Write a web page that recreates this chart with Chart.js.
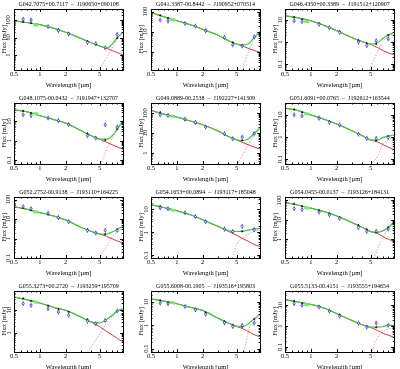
<!DOCTYPE html>
<html>
<head>
<meta charset="utf-8">
<script src="https://cdn.jsdelivr.net/npm/chart.js@4.4.0/dist/chart.umd.min.js"></script>
<style>
  html, body { margin: 0; padding: 0; background: #fff; overflow: hidden; }
  #grid { position: relative; width: 400px; height: 369px; overflow: hidden; }
  #grid canvas { position: absolute; }
</style>
</head>
<body>
<div id="grid"></div>
<script>
// panel titles, left to right, top to bottom
const titles = [
  'G042.7075+00.7117  –  J190650+090108',
  'G041.3387-00.8442  –  J190952+070514',
  'G046.4350+00.3389  –  J191512+120907',
  'G048.1075-00.0432  –  J191947+132707',
  'G049.0889-00.2538  –  J192227+141309',
  'G051.6091+00.0765  –  J192612+163544',
  'G052.2752-00.9138  –  J193110+164225',
  'G054.1653+00.0894  –  J193117+185048',
  'G054.0455-00.0137  –  J193126+184131',
  'G055.3273+00.2720  –  J193259+195709',
  'G055.6008-00.1905  –  J193516+195803',
  'G055.5133-00.4151  –  J193555+194654'
];

// y axis limits per panel (mJy)
const yMin = [0.14, 0.12, 0.053, 0.062, 0.29, 0.061, 0.1, 0.077, 0.11, 0.145, 0.072, 0.057];
const yMax = [425, 136, 32, 90, 316, 34, 135, 35, 150, 71, 30, 49];

const xTicks = [0.5, 1, 2, 5];
const yTicks = [0.1, 1, 10, 100];

// photometric bands (um) and measured fluxes (blue)
const bandWave = [0.64, 0.79, 1.25, 1.65, 2.17, 3.6, 4.5, 5.8, 8.0];
const obsFlux = [
  [110, 100, 42, 25, 16, 5.2, 4.5, 2.6, 15],
  [38, 34, 26, 19, 11, 5.2, 2.2, 1.9, 5.5],
  [9.3, 8.4, 6.4, 4.5, 2.75, 1.0, 0.68, 1.15, 1.4],
  [22, 20, 15, 11, 6.7, 1.8, 1.35, 6.7, 5.1],
  [82, 76, 50, 34, 20, 9.3, 5.2, 6.3, 9.3],
  [10, 9.0, 7.0, 4.6, 3.5, 1.33, 0.87, 0.87, 0.96],
  [43, 34, 20, 12, 7.3, 2.6, 1.9, 2.6, 2.6],
  [11.8, 10.7, 7.2, 4.9, 2.9, 1.4, 1.1, 1.85, 1.3],
  [38, 34, 25, 18, 12, 4.1, 2.6, 2.6, 3.4],
  [19.7, 16.6, 11.8, 8.4, 6.0, 3.3, 2.6, 3.6, 9.3],
  [9.1, 8.5, 6.5, 4.7, 3.0, 1.3, 0.9, 1.0, 1.25],
  [12, 10, 8.3, 5.3, 3.0, 1.4, 0.9, 1.4, 1.1]
];
// model fluxes in the same bands (black)
const bandModel = [
  [78, 66, 42, 28, 18, 6.3, 4.0, 2.6, 9.5],
  [66, 48, 27, 19, 12, 5.0, 2.9, 2.1, 5.2],
  [13.5, 11, 7, 4.6, 3.1, 1.2, 0.88, 0.82, 2.1],
  [35, 27, 15, 11, 7.5, 2.4, 1.45, 1.1, 4],
  [110, 75, 46, 32, 22, 9, 5.6, 4.3, 10],
  [17.5, 13, 7.5, 5.0, 3.4, 1.4, 0.9, 0.7, 1.1],
  [37, 28, 17, 11.5, 7.8, 2.9, 2.0, 1.65, 2.9],
  [14, 11, 7, 4.8, 3.2, 1.5, 1.12, 1.12, 1.4],
  [68, 50, 31, 21, 14, 5.4, 3.3, 2.3, 4.1],
  [33, 26, 16, 11.5, 8.6, 4.0, 2.5, 3.5, 9.3],
  [12, 9.6, 6.8, 5.0, 3.6, 1.5, 1.05, 0.88, 1.9],
  [16.5, 12.5, 8.5, 5.6, 3.6, 1.4, 1.0, 0.88, 1.1]
];

// short spectrum piece (light green)
const specWave = [0.84, 0.9, 0.96];
const specFlux = [
  [55, 52, 50], [42, 40, 38], [9, 8.5, 8.2], [26, 25, 24],
  [72, 70, 68], [11.5, 11, 10.5], [24, 23, 22], [10, 9.4, 9],
  [43, 41, 39], [24, 23, 22], [9.8, 9.4, 9], [11.2, 10.8, 10.4]
];

// model curves
const modelWave = [0.5, 0.7, 1, 1.5, 2, 3, 4, 5, 6, 7, 8, 9.4];
const totalFlux = [
  [90, 72, 55, 32, 20, 9, 5, 3.3, 2.5, 4.2, 9.5, 21],
  [89, 56, 35, 21, 13, 6.8, 3.5, 2.4, 2.15, 2.6, 5.2, 10],
  [15.7, 12.8, 9.3, 5.3, 3.3, 1.6, 1.04, 0.8, 0.93, 1.5, 2.1, 2.7],
  [40, 32, 20, 12, 8.2, 3.4, 1.8, 1.2, 1.2, 1.8, 4, 11],
  [136, 89, 63, 38, 26, 13, 6.8, 4.6, 4.3, 5.6, 10, 18],
  [20, 15.7, 10, 5.9, 3.9, 1.94, 1.15, 0.73, 0.73, 0.96, 1.1, 1.23],
  [43, 32, 21.5, 13.7, 9, 3.8, 2.3, 1.7, 1.7, 2.15, 2.9, 4.3],
  [16.3, 12.2, 8.8, 5.6, 3.55, 1.85, 1.2, 1.1, 1.15, 1.3, 1.4, 1.5],
  [79, 58, 40, 25, 16, 7.4, 4.1, 2.5, 2.3, 2.8, 4.1, 8],
  [38.7, 29.5, 21, 13, 10, 5.1, 3.0, 2.8, 3.9, 6.0, 9.3, 11.8],
  [13.9, 11, 8.5, 5.7, 4.4, 2.06, 1.26, 0.9, 0.9, 1.26, 1.9, 3.2],
  [18.8, 14.5, 11.2, 6.9, 4.0, 1.9, 1.16, 0.9, 0.9, 0.96, 1.1, 1.1]
];
const starFlux = [
  [90, 72, 55, 32, 20, 9, 5, 3.3, 2.4, 1.8, 1.4, 1.0],
  [89, 56, 35, 21, 13, 6.8, 3.5, 2.4, 1.8, 1.4, 1.15, 0.93],
  [15.7, 12.8, 9.3, 5.3, 3.3, 1.6, 1.04, 0.78, 0.56, 0.40, 0.32, 0.26],
  [40, 32, 20, 12, 8.2, 3.4, 1.8, 1.2, 0.83, 0.62, 0.48, 0.36],
  [136, 89, 63, 38, 26, 13, 6.8, 4.5, 3.3, 2.5, 2.0, 1.6],
  [20, 15.7, 10, 5.9, 3.9, 1.94, 1.15, 0.73, 0.6, 0.45, 0.35, 0.27],
  [43, 32, 21.5, 13.7, 9, 3.8, 2.3, 1.7, 1.3, 0.95, 0.75, 0.56],
  [16.3, 12.2, 8.8, 5.6, 3.55, 1.85, 1.12, 0.75, 0.52, 0.39, 0.30, 0.24],
  [79, 58, 40, 25, 16, 7.4, 4.1, 2.5, 2.0, 1.36, 1.01, 0.79],
  [38.7, 29.5, 21, 13, 10, 5.1, 3.0, 1.9, 1.18, 0.82, 0.58, 0.4],
  [13.9, 11, 8.5, 5.7, 4.4, 2.06, 1.26, 0.9, 0.7, 0.52, 0.4, 0.32],
  [18.8, 14.5, 11.2, 6.9, 4.0, 1.9, 1.16, 0.86, 0.62, 0.44, 0.37, 0.29]
];
const dustWave = [3, 4, 5, 6, 7, 8, 9.4];
const dustFlux = [
  [0.003, 0.03, 0.17, 0.7, 2.4, 8, 20],
  [0.001, 0.005, 0.03, 0.2, 1.2, 4, 9],
  [0.0005, 0.005, 0.07, 0.35, 1.1, 1.8, 2.45],
  [0.0003, 0.003, 0.04, 0.35, 1.2, 3.5, 10.6],
  [0.001, 0.01, 0.2, 1.0, 3.1, 8, 16.4],
  [0.0003, 0.003, 0.05, 0.13, 0.5, 0.75, 0.96],
  [0.001, 0.01, 0.1, 0.4, 1.2, 2.15, 3.7],
  [0.002, 0.02, 0.3, 0.6, 0.9, 1.1, 1.26],
  [0.0003, 0.003, 0.05, 0.3, 1.4, 3.1, 7.2],
  [0.05, 0.25, 0.9, 2.7, 5.2, 8.7, 11.4],
  [0.0001, 0.001, 0.01, 0.06, 0.74, 1.5, 2.9],
  [0.0005, 0.004, 0.04, 0.28, 0.52, 0.73, 0.8]
];

const xMinor = [0.6, 0.7, 0.8, 0.9, 3, 4, 6, 7, 8, 9];

const colLeft = [0, 137, 271];
const rowTop = [0, 94, 188, 282];

Chart.defaults.font.family = "'Liberation Serif', 'DejaVu Serif', serif";
Chart.defaults.font.size = 6.5;
Chart.defaults.color = '#000';

// frame with inward ticks (pgplot style) and the panel title
const framePlugin = {
  id: 'frame',
  afterDraw(chart, args, opts) {
    const ctx = chart.ctx;
    const a = chart.chartArea;
    const xs = chart.scales.x, ys = chart.scales.y;
    ctx.save();
    ctx.strokeStyle = '#000';
    ctx.lineWidth = 1;
    ctx.strokeRect(Math.round(a.left) + 0.5, Math.round(a.top) + 0.5,
                   Math.round(a.right - a.left), Math.round(a.bottom - a.top));
    ctx.beginPath();
    xTicks.concat(xMinor).forEach(function(v) {
      const len = xTicks.indexOf(v) >= 0 ? 3 : 1.5;
      const px = Math.round(xs.getPixelForValue(v)) + 0.5;
      ctx.moveTo(px, a.bottom); ctx.lineTo(px, a.bottom - len);
      ctx.moveTo(px, a.top); ctx.lineTo(px, a.top + len);
    });
    const d0 = Math.floor(Math.log10(ys.min)), d1 = Math.ceil(Math.log10(ys.max));
    for (let d = d0; d <= d1; d++) {
      for (let m = 1; m <= 9; m++) {
        const v = m * Math.pow(10, d);
        if (v < ys.min || v > ys.max) continue;
        const len = m === 1 ? 3 : 1.5;
        const py = Math.round(ys.getPixelForValue(v)) + 0.5;
        ctx.moveTo(a.left, py); ctx.lineTo(a.left + len, py);
        ctx.moveTo(a.right, py); ctx.lineTo(a.right - len, py);
      }
    }
    ctx.stroke();
    ctx.fillStyle = '#000';
    ctx.font = "6px 'Liberation Serif', 'DejaVu Serif', serif";
    ctx.textAlign = 'center';
    ctx.textBaseline = 'middle';
    ctx.fillText(opts.title, (a.left + a.right) / 2, 4.5);
    ctx.restore();
  }
};

function pts(xs, ys) {
  return xs.map(function(x, i) { return { x: x, y: ys[i] }; });
}

const grid = document.getElementById('grid');

titles.forEach(function(title, p) {
  const canvas = document.createElement('canvas');
  canvas.width = 128;
  canvas.height = 94;
  canvas.style.left = colLeft[p % 3] + 'px';
  canvas.style.top = rowTop[Math.floor(p / 3)] + 'px';
  grid.appendChild(canvas);

  new Chart(canvas.getContext('2d'), {
    type: 'scatter',
    data: {
      datasets: [
        {
          data: pts(bandWave, obsFlux[p]),
          pointStyle: 'circle', pointRadius: 1.1, borderWidth: 0.8,
          pointBorderColor: '#3434d0', pointBackgroundColor: '#ffffff'
        },
        {
          data: pts(bandWave, obsFlux[p]),
          pointStyle: 'line', pointRotation: 90, pointRadius: 2.4, borderWidth: 0.8,
          pointBorderColor: '#3434d0'
        },
        {
          data: pts(bandWave, bandModel[p]),
          pointStyle: 'triangle', pointRadius: 1.0, borderWidth: 0.5,
          pointBorderColor: '#000', pointBackgroundColor: '#000'
        },
        {
          data: pts(specWave, specFlux[p]), showLine: true,
          borderColor: '#7de27d', borderWidth: 3, pointRadius: 0
        },
        {
          data: pts(modelWave, totalFlux[p]), showLine: true,
          borderColor: '#3ccc3c', borderWidth: 1.2, pointRadius: 0,
          cubicInterpolationMode: 'monotone'
        },
        {
          data: pts(modelWave, starFlux[p]), showLine: true,
          borderColor: '#d23a3a', borderWidth: 1, pointRadius: 0,
          cubicInterpolationMode: 'monotone'
        },
        {
          data: pts(dustWave, dustFlux[p]), showLine: true,
          borderColor: '#ea98b2', borderWidth: 1, borderDash: [1.5, 1.5], pointRadius: 0,
          cubicInterpolationMode: 'monotone'
        }
      ]
    },
    options: {
      responsive: false,
      animation: false,
      events: [],
      layout: { padding: { top: 9, right: 2, left: 0, bottom: 0 } },
      plugins: {
        legend: { display: false },
        tooltip: { enabled: false },
        frame: { title: title }
      },
      scales: {
        x: {
          type: 'logarithmic', min: 0.5, max: 9.4, bounds: 'data',
          afterFit: function(s) { s.height = 24; },
          afterBuildTicks: function(s) { s.ticks = xTicks.map(function(v) { return { value: v }; }); },
          ticks: { callback: function(v) { return String(v); }, padding: 0, maxRotation: 0, autoSkip: false },
          grid: { display: false, drawTicks: false },
          border: { display: false },
          title: { display: true, text: 'Wavelength [µm]', padding: { top: 0, bottom: 5 } }
        },
        y: {
          type: 'logarithmic', min: yMin[p], max: yMax[p], bounds: 'data',
          afterFit: function(s) { s.width = 14; },
          afterBuildTicks: function(s) {
            s.ticks = yTicks.filter(function(v) { return v >= yMin[p] && v <= yMax[p]; })
                            .map(function(v) { return { value: v }; });
          },
          ticks: {
            callback: function(v) { return String(v); },
            padding: 1, minRotation: 90, maxRotation: 90, crossAlign: 'center', autoSkip: false
          },
          grid: { display: false, drawTicks: false },
          border: { display: false },
          title: { display: true, text: 'Flux [mJy]', padding: { top: 0, bottom: 0 } }
        }
      }
    },
    plugins: [framePlugin]
  });
});
</script>
</body>
</html>
